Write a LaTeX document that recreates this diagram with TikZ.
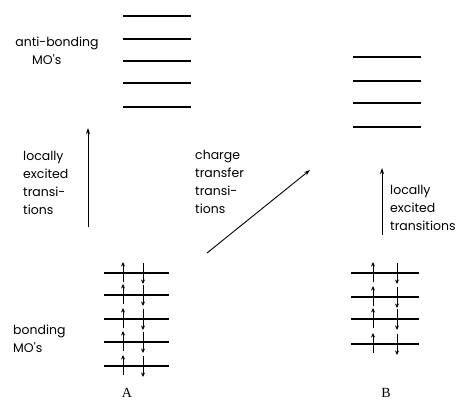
\documentclass[tikz,border=0pt]{standalone}
\usepackage{fontspec}
\setmainfont{Poppins}
\newfontfamily\labfont{Liberation Serif}
\usetikzlibrary{arrows.meta}
\begin{document}
\begin{tikzpicture}[x=1pt,y=-1pt,
  level/.style={line width=1.6pt},
  trans/.style={line width=0.9pt,-{Stealth[length=6pt,width=4pt]}},
  spin/.style={line width=0.9pt,-{Stealth[length=4.5pt,width=4pt]}},
  txt/.style={inner sep=0pt,align=left,font=\fontsize{12.5}{18}\selectfont},
  lab/.style={inner sep=0pt,font=\labfont\fontsize{14}{14}\selectfont}]
\useasboundingbox (0,0) rectangle (474,401);
% A anti-bonding
\foreach \y in {16,39,61,83,107} \draw[level] (123,\y) -- (191,\y);
% B anti-bonding
\foreach \y in {57,81,103,127} \draw[level] (353,\y) -- (421,\y);
% A bonding
\foreach \y in {273,295,319,342,366} {
  \draw[level,line width=1.1pt] (104,\y) -- (169,\y);
  \draw[spin] (123,\y+9) -- (123,\y-11);
  \draw[spin] (143,\y-10) -- (143,\y+11);
}
% B bonding
\foreach \y in {273,297,319,344} {
  \draw[level,line width=1.1pt] (351,\y) -- (419,\y);
  \draw[spin] (373,\y+9) -- (373,\y-11);
  \draw[spin] (397,\y-10) -- (397,\y+11);
}
% transition arrow endpoints
\coordinate (a1) at (88,227);
\coordinate (a2) at (88,128);
\coordinate (c1) at (207,253);
\coordinate (c2) at (310,170);
\coordinate (b1) at (382,235);
\coordinate (b2) at (382,168);
\draw[trans] (a1) -- (a2);
\draw[trans] (c1) -- (c2);
\draw[trans] (b1) -- (b2);
% labels
\node[txt,anchor=north] (ab) at (57,37) {anti-bonding\\\hphantom{aa}MO\textquotesingle s};
\node[txt,anchor=north west] (le1) at (23,151) {locally\\excited\\transi-\\tions};
\node[txt,anchor=north west] (ct) at (195,150) {charge\\transfer\\transi-\\tions};
\node[txt,anchor=north west] (le2) at (390,185) {locally\\excited\\transitions};
\node[txt,anchor=north west] (bo) at (13,325) {bonding\\MO\textquotesingle s};
\node[lab] (A) at (127,393) {A};
\node[lab] (B) at (386,393) {B};
\end{tikzpicture}
\end{document}
